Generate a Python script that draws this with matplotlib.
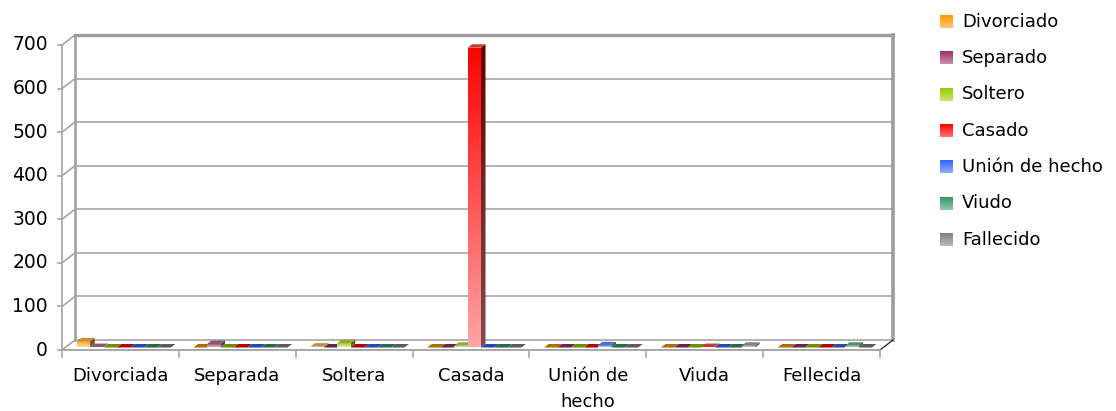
import numpy as np
import matplotlib.pyplot as plt
from matplotlib.patches import Polygon
from matplotlib.colors import to_rgb

# data
categories = ["Divorciada", "Separada", "Soltera", "Casada", "Unión de\nhecho", "Viuda", "Fellecida"]
series = ["Divorciado", "Separado", "Soltero", "Casado", "Unión de hecho", "Viudo", "Fallecido"]
divorciado = [14, 0, 2, 0, 0, 0, 0]
separado = [1, 8, 0, 0, 0, 0, 0]
soltero = [0, 0, 10, 4, 0, 0, 0]
casado = [0, 0, 0, 688, 0, 1, 0]
union_hecho = [0, 0, 0, 0, 5, 0, 0]
viudo = [0, 0, 0, 0, 0, 0, 4]
fallecido = [0, 0, 0, 0, 0, 4, 0]
yticks = [0, 100, 200, 300, 400, 500, 600, 700]
colors = ["#FF9900", "#993366", "#99CC00", "#FF0000", "#3366FF", "#339966", "#808080"]

values = [divorciado, separado, soltero, casado, union_hecho, viudo, fallecido]

W, H = 1116, 411
plt.rcParams['font.family'] = ['DejaVu Sans']
fig = plt.figure(figsize=(W / 100, H / 100), dpi=100)
ax = fig.add_axes([75 / W, (H - 340) / H, 818 / W, 305 / H])
ax.set_xlim(0, 7); ax.set_ylim(0, 700)
ax.axis('off')

px_x = 7 / 818; px_y = 700 / 305
DX, DY = -13, -10   # pixel shift from back wall to front edge


def P(x, y, d):
    return (x + DX * d * px_x, y + DY * d * px_y)


def mix(c1, c2, t):
    return tuple(np.array(c1) * (1 - t) + np.array(c2) * t)


def grad_poly(axis, verts, c_top, c_bot, z):
    poly = Polygon(verts, closed=True, transform=axis.transData)
    xs = [v[0] for v in verts]; ys = [v[1] for v in verts]
    g = np.linspace(0, 1, 128)[:, None]
    img = (1 - g) * np.array(c_top) + g * np.array(c_bot)
    im = axis.imshow(img[:, None, :], extent=[min(xs), max(xs), min(ys), max(ys)],
                     aspect='auto', origin='upper', zorder=z, interpolation='bilinear')
    im.set_clip_path(poly)
    im.set_clip_box(fig.bbox)


grid_c = "#A6A6A6"
for v in yticks:
    ax.plot([0, 7], [v, v], color=grid_c, lw=1.2, zorder=1, clip_on=False)
    ax.plot(*zip(P(0, v, 0), P(0, v, 1)), color=grid_c, lw=1.2, zorder=1, clip_on=False)
    x0, y0 = P(0, v, 1)
    ax.plot([x0, x0 - 4 * px_x], [y0, y0], color=grid_c, lw=1.2, clip_on=False)
    ax.text(x0 - 14 * px_x, y0, str(v), ha='right', va='center', fontsize=13.5, color='black')
ax.plot([0, 0], [0, 700], color=grid_c, lw=2, zorder=1, clip_on=False)
ax.plot(*zip(P(0, 0, 1), P(0, 700, 1)), color=grid_c, lw=1.2, zorder=1, clip_on=False)
ax.plot([0, 7], [700, 700], color="#9C9C9C", lw=2.4, zorder=1, clip_on=False)
ax.plot([7, 7], [0, 700], color="#9C9C9C", lw=2.6, zorder=1, clip_on=False)
ax.plot(*zip(P(0, 0, 1), P(7, 0, 1)), color=grid_c, lw=1.4, zorder=1, clip_on=False)
ax.plot(*zip(P(7, 0, 0), P(7, 0, 1)), color="#333333", lw=1, zorder=1, clip_on=False)
for k in range(8):
    x0, y0 = P(k, 0, 1)
    ax.plot([x0, x0], [y0, y0 - 7 * px_y], color=grid_c, lw=1.2, clip_on=False)
for k, lab in enumerate(categories):
    x0, y0 = P(k + 0.5, 0, 1)
    ax.text(x0, y0 - 17 * px_y, lab, ha='center', va='top', fontsize=13,
            linespacing=1.55, color='black')

bw = 0.115
gap = (1 - bw * len(series)) / 2
df, db = 0.75, 0.4
z = 2
for k in range(len(categories)):
    for j, vals in enumerate(values):
        v = vals[k]
        base = to_rgb(colors[j])
        light = mix(base, (1, 1, 1), 0.65)
        x0 = k + gap + j * bw
        x1 = x0 + bw
        top = [P(x0, v, df), P(x1, v, df), P(x1, v, db), P(x0, v, db)]
        topc = mix(base, (0, 0, 0), 0.3)
        if v > 0:
            front = [P(x0, 0, df), P(x1, 0, df), P(x1, v, df), P(x0, v, df)]
            grad_poly(ax, front, base, light, z)
            side = [P(x1, 0, df), P(x1, v, df), P(x1, v, db), P(x1, 0, db)]
            sd = mix(base, (0, 0, 0), 0.6)
            grad_poly(ax, side, sd, mix(sd, (0.6, 0.6, 0.6), 0.5), z + 0.1)
            topc = mix(base, (0.5, 0.5, 0.5), 0.45)
        ax.add_patch(Polygon(top, closed=True, facecolor=topc, edgecolor='none',
                             zorder=z + 0.2, clip_on=False))
        z += 1

ax.set_xlim(0, 7); ax.set_ylim(0, 700)

# legend
lax = fig.add_axes([0, 0, 1, 1], zorder=10)
lax.set_xlim(0, W); lax.set_ylim(H, 0)
lax.axis('off')
for j, name in enumerate(series):
    yc = 21.7 + j * 36.3
    base = to_rgb(colors[j])
    g = np.linspace(0, 1, 32)[:, None]
    img = (1 - g) * np.array(base) + g * np.array(mix(base, (1, 1, 1), 0.45))
    lax.imshow(img[:, None, :], extent=[940, 953, yc + 6.5, yc - 6.5], aspect='auto',
               origin='upper', interpolation='bilinear')
    lax.text(962, yc, name, ha='left', va='center', fontsize=13, color='black')
lax.set_xlim(0, W); lax.set_ylim(H, 0)

fig.savefig("out.png", dpi=100)
